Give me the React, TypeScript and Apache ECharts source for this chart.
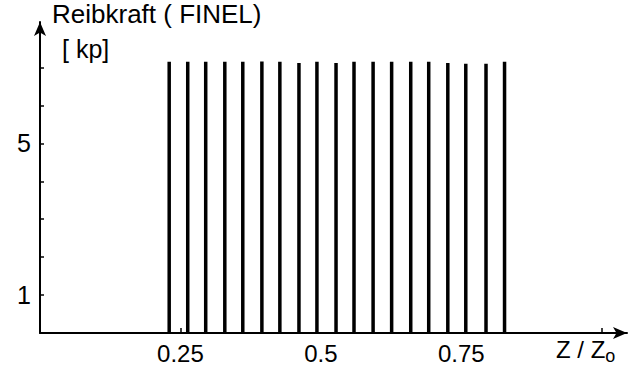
import React, { useEffect, useRef } from "react";
import * as echarts from "echarts";

const barPositions = [0.23, 0.263, 0.295, 0.329, 0.361, 0.395, 0.427, 0.461, 0.493, 0.527, 0.559, 0.593, 0.626, 0.66, 0.692, 0.726, 0.758, 0.794, 0.827];
const barForces = [7.15, 7.15, 7.15, 7.15, 7.15, 7.16, 7.15, 7.12, 7.15, 7.12, 7.15, 7.15, 7.15, 7.15, 7.15, 7.12, 7.1, 7.1, 7.15];
const xTickLabels = [0.25, 0.5, 0.75];
const xTickMarks = [0.25, 1];
const yTickLabels = [1, 5];
const yTickMarks = [1, 2, 3, 4, 5, 6, 7];

const FONT = "Liberation Sans";

export default function App() {
  const ref = useRef<HTMLDivElement>(null);
  useEffect(() => {
    if (!ref.current) return;
    const chart = echarts.init(ref.current, null, { renderer: "svg" });
    chart.setOption({
      animation: false,
      backgroundColor: "#ffffff",
      grid: { left: 40, right: 13, top: 22, bottom: 42 },
      xAxis: {
        type: "value",
        min: 0,
        max: 1.045,
        axisLine: { show: true, symbol: ["none", "arrow"], symbolSize: [9, 14], lineStyle: { color: "#000", width: 2 } },
        axisTick: { show: true, inside: true, length: 5, customValues: xTickMarks, lineStyle: { color: "#000", width: 1.5 } },
        axisLabel: { customValues: xTickLabels, margin: 8, color: "#000", fontSize: 24, fontFamily: FONT, formatter: (v: number) => String(v) },
        splitLine: { show: false },
      },
      yAxis: {
        type: "value",
        min: 0,
        max: 8.2,
        axisLine: { show: true, symbol: ["none", "arrow"], symbolSize: [9, 14], lineStyle: { color: "#000", width: 2 } },
        axisTick: { show: true, inside: true, length: 4, customValues: yTickMarks, lineStyle: { color: "#000", width: 1.5 } },
        axisLabel: { customValues: yTickLabels, margin: 9, color: "#000", fontSize: 25, fontFamily: FONT },
        splitLine: { show: false },
      },
      series: [
        {
          type: "bar",
          barWidth: 3.5,
          itemStyle: { color: "#000" },
          data: barPositions.map((x, i) => [x, barForces[i]]),
        },
      ],
      graphic: [
        { type: "text", left: 52, top: 1, style: { text: "Reibkraft ( FINEL)", fill: "#000", font: `26px ${FONT}` } },
        { type: "text", left: 62, top: 36, style: { text: "[ kp]", fill: "#000", font: `25px ${FONT}` } },
        {
          type: "text",
          left: 556,
          top: 337,
          style: {
            text: "Z / Z{s|o}",
            fill: "#000",
            font: `24px ${FONT}`,
            rich: { s: { fontSize: 18, fontFamily: FONT, padding: [14, 0, 0, 0], fill: "#000" } },
          },
        },
      ],
    });
    return () => chart.dispose();
  }, []);
  return <div ref={ref} style={{ width: 640, height: 375, position: "absolute", left: 0, top: 0 }} />;
}
